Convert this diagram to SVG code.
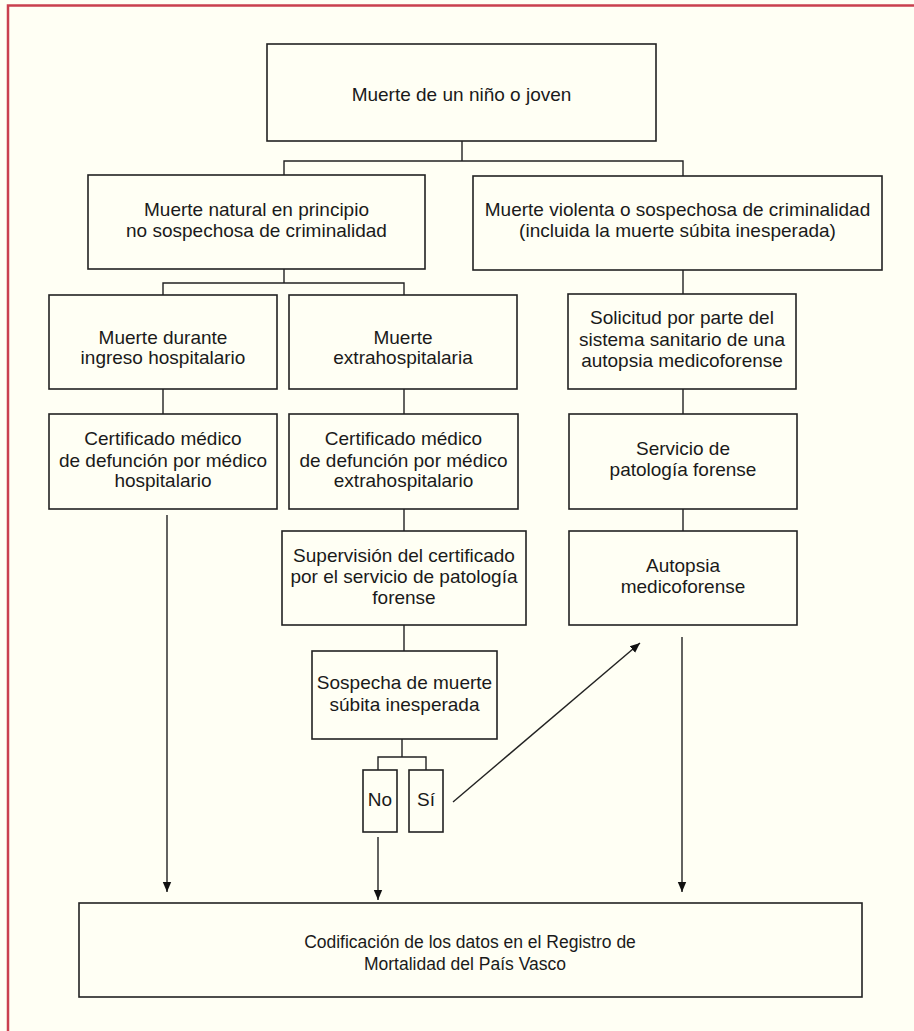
<svg xmlns="http://www.w3.org/2000/svg" width="914" height="1031" viewBox="0 0 914 1031">
<defs>
<style>
.box{fill:#fffff4;stroke:#222;stroke-width:1.6}
.ln{fill:none;stroke:#222;stroke-width:1.4}
.t{font-family:"Liberation Sans",Arial,sans-serif;font-size:19px;fill:#1a1a1a;text-anchor:middle}
.s{font-size:17.5px}
</style>
<marker id="ah" viewBox="0 0 10 10" refX="10" refY="5" markerWidth="10" markerHeight="10" markerUnits="userSpaceOnUse" orient="auto">
<path d="M0,0.8 L10,5 L0,9.2 Z" fill="#111"/>
</marker>
</defs>
<rect x="0" y="0" width="914" height="1031" fill="#fffff4"/>
<path d="M8,1031 L8,5.5 L914,5.5" fill="none" stroke="#c9404e" stroke-width="2.5"/>

<g id="connectors">
<path class="ln" d="M462,141 V161 M284,175 V161 H683 V176"/>
<path class="ln" d="M284,269 V283 M163,295 V283 H404 V295"/>
<path class="ln" d="M683,270 V294"/>
<path class="ln" d="M163,389 V414 M404,389 V414 M683,389 V414"/>
<path class="ln" d="M404,509 V531 M683,509 V531"/>
<path class="ln" d="M404,625 V651"/>
<path class="ln" d="M402,739 V757 M378,770 V757 H426 V770"/>
<path class="ln" d="M167,515 V892" marker-end="url(#ah)"/>
<path class="ln" d="M378,837 V900" marker-end="url(#ah)"/>
<path class="ln" d="M682,637 V892" marker-end="url(#ah)"/>
<path class="ln" d="M453,802 L640,643" marker-end="url(#ah)"/>
</g>

<g id="n-top"><rect class="box" x="267" y="44" width="389" height="97"/>
<text class="t" x="461.5" y="101">Muerte de un niño o joven</text></g>

<g id="n-natural"><rect class="box" x="88" y="175" width="337" height="94"/>
<text class="t" x="256.5" y="216">Muerte natural en principio</text>
<text class="t" x="256.5" y="237">no sospechosa de criminalidad</text></g>

<g id="n-violenta"><rect class="box" x="473" y="176" width="409" height="94"/>
<text class="t" x="677.5" y="216">Muerte violenta o sospechosa de criminalidad</text>
<text class="t" x="677.5" y="237">(incluida la muerte súbita inesperada)</text></g>

<g id="n-durante"><rect class="box" x="49" y="295" width="228" height="94"/>
<text class="t" x="163" y="344">Muerte durante</text>
<text class="t" x="163" y="364">ingreso hospitalario</text></g>

<g id="n-extra"><rect class="box" x="289" y="295" width="228" height="94"/>
<text class="t" x="403" y="344">Muerte</text>
<text class="t" x="403" y="364">extrahospitalaria</text></g>

<g id="n-solicitud"><rect class="box" x="568" y="294" width="228" height="95"/>
<text class="t" x="682" y="324">Solicitud por parte del</text>
<text class="t" x="682" y="346">sistema sanitario de una</text>
<text class="t" x="682" y="367">autopsia medicoforense</text></g>

<g id="n-cert-hosp"><rect class="box" x="49" y="414" width="228" height="95"/>
<text class="t" x="163" y="445">Certificado médico</text>
<text class="t" x="163" y="467">de defunción por médico</text>
<text class="t" x="163" y="487">hospitalario</text></g>

<g id="n-cert-extra"><rect class="box" x="289" y="414" width="229" height="95"/>
<text class="t" x="403.5" y="445">Certificado médico</text>
<text class="t" x="403.5" y="467">de defunción por médico</text>
<text class="t" x="403.5" y="487">extrahospitalario</text></g>

<g id="n-servicio"><rect class="box" x="569" y="414" width="228" height="95"/>
<text class="t" x="683" y="455">Servicio de</text>
<text class="t" x="683" y="476">patología forense</text></g>

<g id="n-supervision"><rect class="box" x="282" y="531" width="244" height="94"/>
<text class="t" x="404" y="562">Supervisión del certificado</text>
<text class="t" x="404" y="583">por el servicio de patología</text>
<text class="t" x="404" y="604">forense</text></g>

<g id="n-autopsia"><rect class="box" x="569" y="531" width="228" height="94"/>
<text class="t" x="683" y="572">Autopsia</text>
<text class="t" x="683" y="593">medicoforense</text></g>

<g id="n-sospecha"><rect class="box" x="312" y="651" width="185" height="88"/>
<text class="t" x="404.5" y="689">Sospecha de muerte</text>
<text class="t" x="404.5" y="711">súbita inesperada</text></g>

<g id="n-no"><rect class="box" x="363" y="770" width="34" height="62"/>
<text class="t" x="380" y="806">No</text></g>

<g id="n-si"><rect class="box" x="409" y="770" width="34" height="62"/>
<text class="t" x="426" y="806">Sí</text></g>

<g id="n-bottom"><rect class="box" x="79" y="903" width="783" height="94"/>
<text class="t s" x="470" y="948">Codificación de los datos en el Registro de</text>
<text class="t s" x="465" y="970">Mortalidad del País Vasco</text></g>
</svg>
